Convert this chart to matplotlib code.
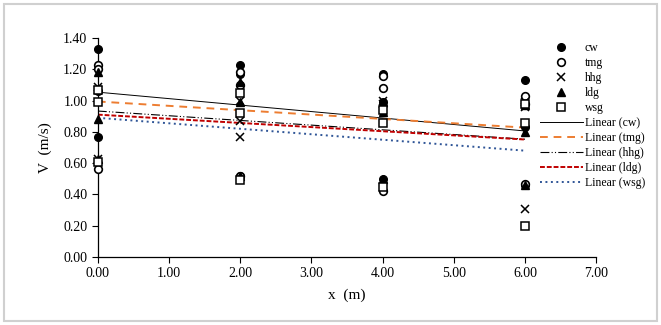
import numpy as np
import matplotlib.pyplot as plt
from matplotlib.lines import Line2D
from matplotlib.patches import Rectangle

plt.rcParams["font.family"] = ["Liberation Serif", "DejaVu Serif"]

# distance along channel (m), three readings per station
x_pos = [0, 0, 0, 2, 2, 2, 4, 4, 4, 6, 6, 6]

cw = [1.33, 1.06, 0.77, 1.23, 1.17, 0.52, 1.17, 0.99, 0.50, 1.13, 0.83, 0.46]
tmg = [1.23, 1.20, 0.56, 1.18, 1.10, 0.52, 1.16, 1.08, 0.42, 1.03, 0.98, 0.47]
hhg = [1.09, 1.07, 0.63, 1.00, 0.87, 0.77, 1.00, 0.98, 0.45, 0.99, 0.96, 0.31]
ldg = [1.18, 0.88, 0.63, 1.12, 0.99, 0.52, 0.99, 0.93, 0.50, 0.97, 0.80, 0.46]
wsg = [1.07, 0.99, 0.61, 1.05, 0.92, 0.49, 0.94, 0.86, 0.45, 0.98, 0.86, 0.20]

names = ["cw", "tmg", "hhg", "ldg", "wsg"]
series = [cw, tmg, hhg, ldg, wsg]

markers = [
    dict(marker="o", mfc="black", mec="black", ms=5.5),
    dict(marker="o", mfc="white", mec="black", ms=5.5, mew=1.2),
    dict(marker="x", mfc="none", mec="black", ms=6, mew=1.1),
    dict(marker="^", mfc="black", mec="black", ms=6),
    dict(marker="s", mfc="white", mec="black", ms=5.5, mew=1.1),
]
trend_styles = [
    dict(color="black", lw=0.7, ls="-"),
    dict(color="#ED7D31", lw=1.4, ls=(0, (4, 3))),
    dict(color="black", lw=0.8, ls=(0, (8, 2, 1, 2, 1, 2))),
    dict(color="#C00000", lw=1.4, ls=(0, (2.5, 1))),
    dict(color="#2F5597", lw=1.4, ls=(0, (1, 1.8))),
]

fig = plt.figure(figsize=(6.61, 3.25), dpi=100)
ax = fig.add_axes([0.148, 0.209, 0.754, 0.674])

handles = []
line_handles = []
xs = np.array(x_pos, dtype=float)
for name, vals, mk, ts in zip(names, series, markers, trend_styles):
    vals = np.array(vals)
    ax.plot(xs, vals, ls="none", zorder=3, clip_on=False, **mk)
    k, b = np.polyfit(xs, vals, 1)
    xl = np.array([0.0, 6.0])
    ax.plot(xl, k * xl + b, zorder=2, **ts)
    handles.append(Line2D([], [], ls="none", label=name, **mk))
    line_handles.append(Line2D([], [], label="Linear (" + name + ")", **ts))

ax.set_xlim(0, 7)
ax.set_ylim(0, 1.4)
ax.set_xticks(np.arange(0, 7.01, 1))
ax.set_yticks(np.arange(0, 1.41, 0.2))
ax.set_xticklabels(["%.2f" % v for v in np.arange(0, 7.01, 1)])
ax.set_yticklabels(["%.2f" % v for v in np.arange(0, 1.41, 0.2)])
ax.tick_params(labelsize=10, length=4, width=0.8, direction="out")
ax.spines["top"].set_visible(False)
ax.spines["right"].set_visible(False)
ax.spines["left"].set_linewidth(0.9)
ax.spines["bottom"].set_linewidth(0.9)
ax.set_xlabel("x  (m)", fontsize=11, labelpad=6)
ax.set_ylabel("V  (m/s)", fontsize=11, labelpad=8)

fig.legend(handles=handles + line_handles, loc="upper left",
           bbox_to_anchor=(0.81, 0.885), frameon=False, fontsize=8.5,
           handlelength=3.6, handletextpad=0.2, labelspacing=0.25,
           borderaxespad=0)

fig.patches.append(Rectangle((0.006, 0.012), 0.988, 0.976, transform=fig.transFigure,
                             fill=False, edgecolor="#d0d0d0", lw=1.5))

fig.savefig("out.png", dpi=100)
